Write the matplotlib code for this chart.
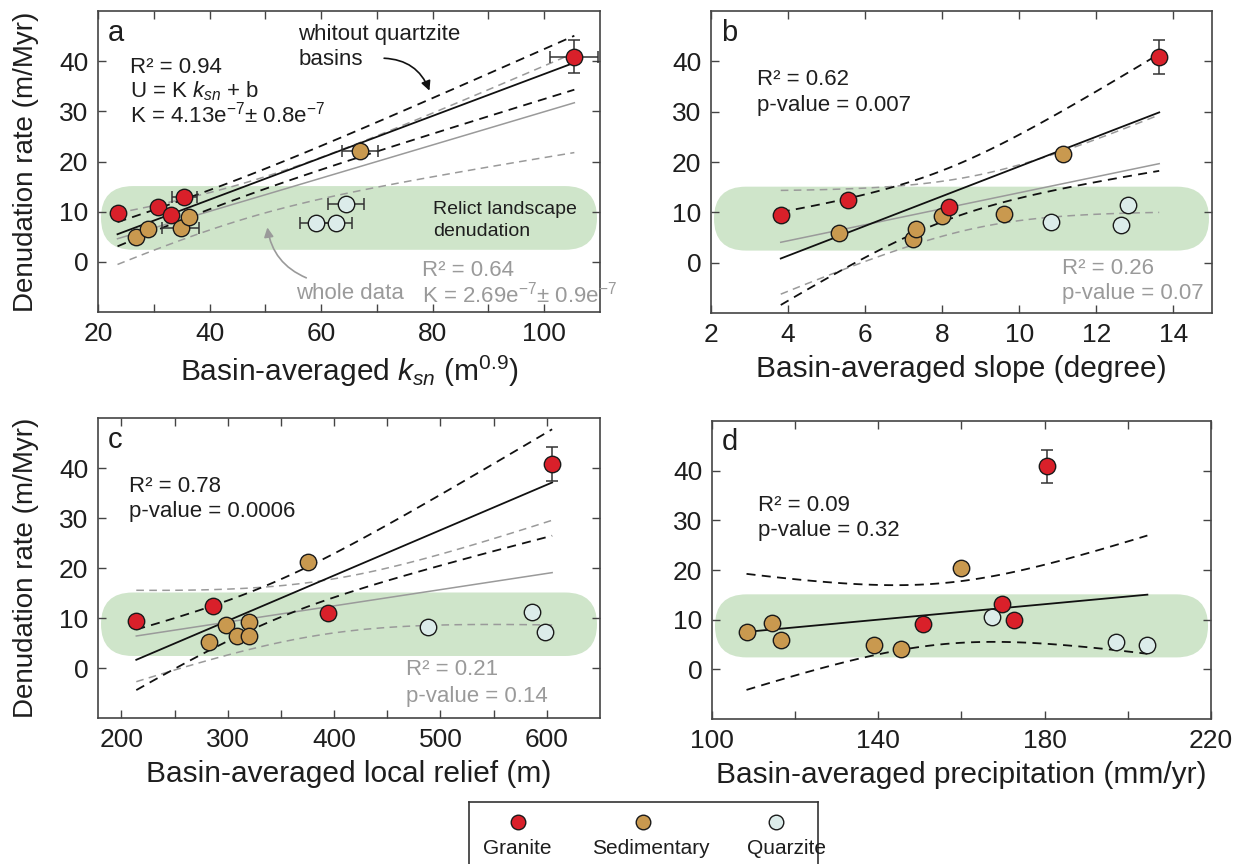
import numpy as np
import matplotlib
matplotlib.use("Agg")
import matplotlib.pyplot as plt
from matplotlib.patches import FancyBboxPatch
from matplotlib.ticker import MultipleLocator, FixedLocator, NullLocator

plt.rcParams['font.family'] = ['Liberation Sans', 'DejaVu Sans']
plt.rcParams['mathtext.fontset'] = 'custom'
plt.rcParams['mathtext.rm'] = 'Liberation Sans'
plt.rcParams['mathtext.it'] = 'Liberation Sans:italic'
plt.rcParams['mathtext.bf'] = 'Liberation Sans:bold'

# ---- panel a : basin-averaged ksn ----
a_gra_x = [23.5, 30.8, 33.0, 35.5, 105.4]
a_gra_y = [9.7, 11.0, 9.4, 12.9, 40.9]
a_gra_xerr = [0, 0, 0, 2.2, 4.3]
a_gra_yerr = [0, 0, 0, 0, 3.3]
a_sed_x = [26.8, 28.9, 34.8, 36.3, 67.0]
a_sed_y = [4.9, 6.5, 6.7, 9.0, 22.1]
a_sed_xerr = [0, 0, 3.3, 0, 3.2]
a_qtz_x = [59.0, 62.6, 64.5]
a_qtz_y = [7.7, 7.7, 11.5]
a_qtz_xerr = [2.8, 3.0, 3.2]

# ---- panel b : basin-averaged slope ----
b_gra_x = [3.81, 5.55, 8.17, 13.63]
b_gra_y = [9.4, 12.5, 11.1, 40.9]
b_gra_yerr = [0, 0, 0, 3.4]
b_sed_x = [5.33, 7.23, 7.33, 8.0, 9.61, 11.13]
b_sed_y = [5.8, 4.8, 6.6, 9.2, 9.7, 21.5]
b_qtz_x = [10.81, 12.65, 12.83]
b_qtz_y = [8.1, 7.5, 11.4]

# ---- panel c : local relief ----
c_gra_x = [214, 286, 394, 605]
c_gra_y = [9.35, 12.5, 11.0, 40.8]
c_gra_yerr = [0, 0, 0, 3.4]
c_sed_x = [282, 298, 309, 320, 320, 375]
c_sed_y = [5.2, 8.7, 6.5, 9.2, 6.5, 21.2]
c_qtz_x = [488, 586, 598]
c_qtz_y = [8.2, 11.2, 7.2]

# ---- panel d : precipitation ----
d_gra_x = [150.7, 169.8, 172.6, 180.5]
d_gra_y = [9.2, 13.1, 9.9, 40.9]
d_gra_yerr = [0, 0, 0, 3.3]
d_sed_x = [108.3, 114.4, 116.5, 138.9, 145.5, 159.8]
d_sed_y = [7.5, 9.3, 5.9, 4.9, 4.1, 20.4]
d_qtz_x = [167.4, 197.1, 204.7]
d_qtz_y = [10.5, 5.5, 4.9]

lithologies = ["Granite", "Sedimentary", "Quarzite"]
lith_colors = ["#d9202a", "#c9994f", "#dcecea"]
band_lo, band_hi = 2.4, 15.1

T95 = {8: 2.306, 9: 2.262, 10: 2.228, 11: 2.201, 12: 2.179}
GRAY = "#9a9a9a"
TXT = "#1e1e1e"

W, H = 1241, 864
fig = plt.figure(figsize=(W / 100, H / 100), dpi=100)


def px_axes(l, r, t, b):
    return fig.add_axes([l / W, 1 - b / H, (r - l) / W, (b - t) / H])


def fit_band(x, y, npts=80):
    x = np.asarray(x, float)
    y = np.asarray(y, float)
    n = len(x)
    k, c0 = np.polyfit(x, y, 1)
    xs = np.linspace(x.min(), x.max(), npts)
    yh = k * xs + c0
    s = np.sqrt(np.sum((y - (k * x + c0)) ** 2) / (n - 2))
    sxx = np.sum((x - x.mean()) ** 2)
    half = T95[n - 2] * s * np.sqrt(1 / n + (xs - x.mean()) ** 2 / sxx)
    return xs, yh, yh - half, yh + half


def draw_fit(ax, x, y, color, lw):
    xs, yh, lo, hi = fit_band(x, y)
    ax.plot(xs, yh, color=color, lw=lw, zorder=2)
    ax.plot(xs, lo, color=color, lw=lw, ls=(0, (5, 3.5)), zorder=2)
    ax.plot(xs, hi, color=color, lw=lw, ls=(0, (5, 3.5)), zorder=2)


def relict_band(ax):
    y0, y1 = ax.get_ylim()
    b0 = (band_lo - y0) / (y1 - y0)
    h = (band_hi - band_lo) / (y1 - y0)
    pos = ax.get_position()
    ratio = (pos.height * H) / (pos.width * W)
    ry = h / 2
    rx = ry * ratio
    p = FancyBboxPatch((0.006, b0), 0.988, h,
                       boxstyle=f"round,pad=0,rounding_size={rx}",
                       mutation_aspect=ry / rx, transform=ax.transAxes,
                       facecolor="#cfe5ca", edgecolor="none", zorder=0)
    ax.add_patch(p)


def points(ax, x, y, color, xerr=None, yerr=None):
    x = np.asarray(x, float)
    y = np.asarray(y, float)
    if xerr is not None:
        xe = np.asarray(xerr, float)
        m = xe > 0
        ax.errorbar(x[m], y[m], xerr=xe[m], fmt="none", ecolor="#333333",
                    elinewidth=1.1, capsize=4, capthick=1.1, zorder=3)
    if yerr is not None:
        ye = np.asarray(yerr, float)
        m = ye > 0
        ax.errorbar(x[m], y[m], yerr=ye[m], fmt="none", ecolor="#333333",
                    elinewidth=1.1, capsize=4, capthick=1.1, zorder=3)
    ax.scatter(x, y, s=140, c=color, edgecolors="#1a1a1a", linewidths=1.0, zorder=4)


def style(ax, xlim, major, minor, xlabel, letter, ylabel=True):
    ax.set_xlim(*xlim)
    ax.set_ylim(-10, 50)
    ax.xaxis.set_major_locator(FixedLocator(major))
    if minor:
        ax.xaxis.set_minor_locator(FixedLocator(minor))
    else:
        ax.xaxis.set_minor_locator(NullLocator())
    ax.yaxis.set_major_locator(FixedLocator([0, 10, 20, 30, 40]))
    ax.tick_params(which="both", direction="in", top=True, right=True, length=6,
                   width=1.0, color="#444444", labelsize=19, labelcolor=TXT, pad=7)
    for sp in ax.spines.values():
        sp.set_color("#444444")
        sp.set_linewidth(1.2)
    ax.set_xlabel(xlabel, fontsize=21.5, color=TXT, labelpad=6)
    if ylabel:
        ax.set_ylabel("Denudation rate (m/Myr)", fontsize=20, color=TXT, labelpad=14)
    ax.text(0.02, 0.975, letter, transform=ax.transAxes, fontsize=21, color=TXT,
            va="top", ha="left")
    relict_band(ax)


def txt(ax, x, y, s, color=TXT, size=16):
    ax.text(x, y, s, color=color, fontsize=size, va="center", ha="left", zorder=5)


# ---------------- panel a ----------------
ax = px_axes(98, 600, 11, 312)
style(ax, (20, 110), [20, 40, 60, 80, 100], [30, 50, 70, 90],
      r"Basin-averaged $\mathit{k_{sn}}$ (m$^{0.9}$)", "a")
draw_fit(ax, a_gra_x + a_sed_x + a_qtz_x, a_gra_y + a_sed_y + a_qtz_y, GRAY, 1.1)
draw_fit(ax, a_gra_x + a_sed_x, a_gra_y + a_sed_y, "#111111", 1.3)
points(ax, a_qtz_x, a_qtz_y, lith_colors[2], xerr=a_qtz_xerr)
points(ax, a_sed_x, a_sed_y, lith_colors[1], xerr=a_sed_xerr)
points(ax, a_gra_x, a_gra_y, lith_colors[0], xerr=a_gra_xerr, yerr=a_gra_yerr)
txt(ax, 25.7, 38.7, "R² = 0.94")
txt(ax, 25.7, 34.1, r"U = K $\mathit{k_{sn}}$ + b")
txt(ax, 25.7, 29.4, r"K = 4.13e$^{-7}$± 0.8e$^{-7}$")
txt(ax, 55.9, 45.3, "whitout quartzite")
txt(ax, 55.9, 40.3, "basins")
ax.annotate("", xy=(79.6, 33.6), xytext=(70.8, 40.6),
            arrowprops=dict(arrowstyle="-|>", color="#111111", lw=1.2,
                            mutation_scale=14, connectionstyle="arc3,rad=-0.35"))
txt(ax, 80.1, 10.5, "Relict landscape", size=14)
txt(ax, 80.1, 6.1, "denudation", size=14)
txt(ax, 55.5, -6.3, "whole data", color=GRAY)
ax.annotate("", xy=(50.3, 7.4), xytext=(57.8, -3.4),
            arrowprops=dict(arrowstyle="-|>", color=GRAY, lw=1.2,
                            mutation_scale=14, connectionstyle="arc3,rad=-0.3"))
txt(ax, 78.1, -1.8, "R² = 0.64", color=GRAY)
txt(ax, 78.1, -6.6, r"K = 2.69e$^{-7}$± 0.9e$^{-7}$", color=GRAY)

# ---------------- panel b ----------------
ax = px_axes(711, 1212, 11, 313)
style(ax, (2, 15), [2, 4, 6, 8, 10, 12, 14], None,
      "Basin-averaged slope (degree)", "b", ylabel=False)
draw_fit(ax, b_gra_x + b_sed_x + b_qtz_x, b_gra_y + b_sed_y + b_qtz_y, GRAY, 1.1)
draw_fit(ax, b_gra_x + b_sed_x, b_gra_y + b_sed_y, "#111111", 1.3)
points(ax, b_qtz_x, b_qtz_y, lith_colors[2])
points(ax, b_sed_x, b_sed_y, lith_colors[1])
points(ax, b_gra_x, b_gra_y, lith_colors[0], yerr=b_gra_yerr)
txt(ax, 3.2, 36.4, "R² = 0.62")
txt(ax, 3.2, 31.3, "p-value = 0.007")
txt(ax, 11.1, -1.2, "R² = 0.26", color=GRAY)
txt(ax, 11.1, -6.2, "p-value = 0.07", color=GRAY)

# ---------------- panel c ----------------
ax = px_axes(98, 600, 418, 718)
style(ax, (178, 650), [200, 300, 400, 500, 600], [250, 350, 450, 550],
      "Basin-averaged local relief (m)", "c")
draw_fit(ax, c_gra_x + c_sed_x + c_qtz_x, c_gra_y + c_sed_y + c_qtz_y, GRAY, 1.1)
draw_fit(ax, c_gra_x + c_sed_x, c_gra_y + c_sed_y, "#111111", 1.3)
points(ax, c_qtz_x, c_qtz_y, lith_colors[2])
points(ax, c_sed_x, c_sed_y, lith_colors[1])
points(ax, c_gra_x, c_gra_y, lith_colors[0], yerr=c_gra_yerr)
txt(ax, 207, 36.4, "R² = 0.78")
txt(ax, 207, 31.3, "p-value = 0.0006")
txt(ax, 468, -0.3, "R² = 0.21", color=GRAY)
txt(ax, 468, -5.7, "p-value = 0.14", color=GRAY)

# ---------------- panel d ----------------
ax = px_axes(712, 1211, 421, 719)
style(ax, (100, 220), [100, 140, 180, 220], [120, 160, 200],
      "Basin-averaged precipitation (mm/yr)", "d", ylabel=False)
draw_fit(ax, d_gra_x + d_sed_x + d_qtz_x, d_gra_y + d_sed_y + d_qtz_y, "#111111", 1.3)
points(ax, d_qtz_x, d_qtz_y, lith_colors[2])
points(ax, d_sed_x, d_sed_y, lith_colors[1])
points(ax, d_gra_x, d_gra_y, lith_colors[0], yerr=d_gra_yerr)
txt(ax, 111, 33.0, "R² = 0.09")
txt(ax, 111, 27.9, "p-value = 0.32")

# ---------------- legend box ----------------
lax = px_axes(469, 818, 802, 864)
lax.set_xlim(0, 349)
lax.set_ylim(0, 62)
lax.set_xticks([])
lax.set_yticks([])
lax.spines["bottom"].set_visible(False)
for sp in ["top", "left", "right"]:
    lax.spines[sp].set_color("#333333")
    lax.spines[sp].set_linewidth(1.2)
mark_x = [49, 174, 307]
label_x = [48, 182, 318]
for mx, lx, name, col in zip(mark_x, label_x, lithologies, lith_colors):
    lax.scatter([mx], [42], s=110, c=col, edgecolors="#1a1a1a", linewidths=1.0)
    lax.text(lx, 16, name, fontsize=15, color=TXT, ha="center", va="center")

fig.savefig("out.png", dpi=100)
